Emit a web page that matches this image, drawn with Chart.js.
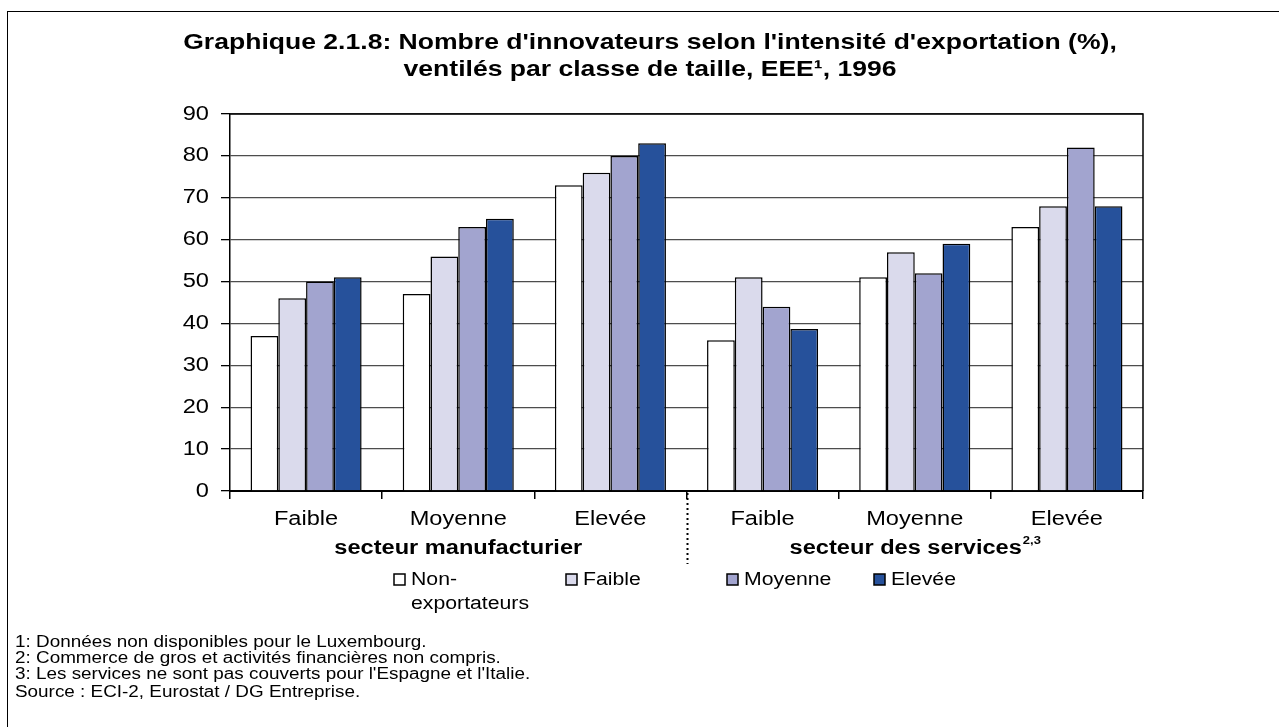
<!DOCTYPE html>
<html>
<head>
<meta charset="utf-8">
<title>Graphique 2.1.8</title>
<script src="https://cdn.jsdelivr.net/npm/chart.js@4.4.1/dist/chart.umd.min.js"></script>
<style>
    html, body { margin: 0; padding: 0; background: #fff; }
    #wrap { width: 1279px; height: 727px; }
</style>
</head>
<body>
<div id="wrap"><canvas id="bar-chart" width="1279" height="727"></canvas></div>
<script>
'use strict';

// export intensity classes on the x axis, two sectors of three
const categories = ['Faible', 'Moyenne', 'Elevée', 'Faible', 'Moyenne', 'Elevée'];
const sectors = ['secteur manufacturier', 'secteur des services'];

// share of innovators (%) by size class
const nonExportateurs = [37, 47, 73, 36, 51, 63];
const faible = [46, 56, 76, 51, 57, 68];
const moyenne = [50, 63, 80, 44, 52, 82];
const elevee = [51, 65, 83, 38.7, 59, 68];

const seriesLabels = ['Non-\nexportateurs', 'Faible', 'Moyenne', 'Elevée'];
const seriesColors = ['#ffffff', '#dadaec', '#a2a4cf', '#26519b'];

const yTicks = [0, 10, 20, 30, 40, 50, 60, 70, 80, 90];

const titleLines = [
    "Graphique 2.1.8: Nombre d'innovateurs selon l'intensité d'exportation (%),",
    "ventilés par classe de taille, EEE¹, 1996"
];
const notes = [
    '1: Données non disponibles pour le Luxembourg.',
    '2: Commerce de gros et activités financières non compris.',
    "3: Les services ne sont pas couverts pour l'Espagne et l'Italie."
];
const source = 'Source : ECI-2, Eurostat / DG Entreprise.';

const FONT = '"Liberation Sans", Arial, Helvetica, sans-serif';
const SX = 1.18;   // the text in this figure is set slightly wide


// draws text widened by SX, anchored like textAlign would
function wideText(ctx, text, x, y, align) {
    const w = ctx.measureText(text).width * SX;
    let x0 = x;
    if (align === 'center') x0 = x - w / 2;
    else if (align === 'right') x0 = x - w;
    ctx.save();
    ctx.translate(x0, y);
    ctx.scale(SX, 1);
    ctx.textAlign = 'left';
    ctx.fillText(text, 0, 0);
    ctx.restore();
    return w;
}

const decor = {
    id: 'decor',
    beforeDraw(chart) {
        const ctx = chart.ctx;
        ctx.save();
        ctx.fillStyle = '#fff';
        ctx.fillRect(0, 0, chart.width, chart.height);
        ctx.strokeStyle = '#000';
        ctx.lineWidth = 1;
        ctx.strokeRect(7.5, 11.5, chart.width + 20, chart.height + 20);
        ctx.restore();
    },
    afterDatasetsDraw(chart) {
        // top and right edges of the plot frame
        const ctx = chart.ctx;
        const a = chart.chartArea;
        ctx.save();
        ctx.strokeStyle = '#000';
        ctx.lineWidth = 1.5;
        ctx.beginPath();
        ctx.moveTo(a.left, a.top);
        ctx.lineTo(a.right, a.top);
        ctx.lineTo(a.right, a.bottom);
        ctx.stroke();
        ctx.restore();
    },
    afterDraw(chart) {
        const ctx = chart.ctx;
        const a = chart.chartArea;
        const x = chart.scales.x;
        const y = chart.scales.y;
        ctx.save();
        ctx.fillStyle = '#000';
        ctx.textBaseline = 'middle';

        // title
        ctx.font = 'bold 22.5px ' + FONT;
        wideText(ctx, titleLines[0], 650, 43, 'center');
        wideText(ctx, titleLines[1], 650, 70, 'center');

        // tick labels, placed by the scales
        ctx.font = '20px ' + FONT;
        y.ticks.forEach((t, i) => {
            wideText(ctx, String(t.value), 209, y.getPixelForTick(i), 'right');
        });
        x.ticks.forEach((t, i) => {
            wideText(ctx, chart.data.labels[t.value], x.getPixelForTick(i), 519, 'center');
        });

        // sector labels under the x ticks
        const mid = (x.getPixelForValue(2) + x.getPixelForValue(3)) / 2;
        ctx.font = 'bold 20px ' + FONT;
        wideText(ctx, sectors[0], (a.left + mid) / 2, 548, 'center');
        let w1 = ctx.measureText(sectors[1]).width * SX;
        ctx.font = 'bold 11px ' + FONT;
        let w2 = ctx.measureText('2,3').width * SX;
        let sx0 = (mid + a.right) / 2 - (w1 + w2) / 2;
        ctx.font = 'bold 20px ' + FONT;
        wideText(ctx, sectors[1], sx0, 548, 'left');
        ctx.font = 'bold 11px ' + FONT;
        wideText(ctx, '2,3', sx0 + w1 + 1, 541, 'left');

        // dotted divider between sectors
        ctx.strokeStyle = '#000';
        ctx.lineWidth = 2;
        ctx.setLineDash([2, 3]);
        ctx.beginPath();
        ctx.moveTo(Math.round(mid) + 0.5, a.bottom + 2);
        ctx.lineTo(Math.round(mid) + 0.5, 564);
        ctx.stroke();
        ctx.setLineDash([]);

        // legend
        const legX = [394, 566, 727, 874];
        ctx.font = '18px ' + FONT;
        chart.data.datasets.forEach((ds, i) => {
            ctx.fillStyle = ds.backgroundColor;
            ctx.fillRect(legX[i], 574, 11, 11);
            ctx.strokeStyle = '#000';
            ctx.lineWidth = 1.5;
            ctx.strokeRect(legX[i], 574, 11, 11);
            ctx.fillStyle = '#000';
            ds.label.split('\n').forEach((line, j) => {
                wideText(ctx, line, legX[i] + 17, 580 + j * 24, 'left');
            });
        });

        // footnotes
        ctx.font = '16px ' + FONT;
        notes.forEach((n, i) => wideText(ctx, n, 15, 643 + i * 16, 'left'));
        wideText(ctx, source, 15, 693, 'left');
        ctx.restore();
    }
};

const datasets = [nonExportateurs, faible, moyenne, elevee].map((values, i) => ({
    label: seriesLabels[i],
    data: values,
    backgroundColor: seriesColors[i],
    borderColor: '#000',
    borderWidth: 1.5,
    categoryPercentage: 0.73,
    barPercentage: 1.0
}));

const ctx = document.getElementById('bar-chart').getContext('2d');
const chart = new Chart(ctx, {
    type: 'bar',
    data: { labels: categories, datasets: datasets },
    options: {
        responsive: false,
        animation: false,
        devicePixelRatio: 1,
        layout: { padding: { left: 0, top: 114, right: 136, bottom: 196 } },
        plugins: {
            legend: { display: false },
            title: { display: false },
            tooltip: { enabled: false }
        },
        scales: {
            x: {
                afterFit(scale) { scale.height = 40; },
                grid: {
                    offset: true,
                    drawOnChartArea: false,
                    tickLength: 8,
                    color: '#000',
                    lineWidth: 1.5
                },
                border: { color: '#000', width: 2 },
                ticks: { display: false }
            },
            y: {
                min: 0,
                max: 90,
                afterFit(scale) { scale.width = 230; },
                afterBuildTicks(scale) { scale.ticks = yTicks.map(v => ({ value: v })); },
                grid: {
                    color: '#4d4d4d',
                    lineWidth: 1.3,
                    tickColor: '#000',
                    tickLength: 9
                },
                border: { color: '#000', width: 1.5 },
                ticks: { display: false }
            }
        }
    },
    plugins: [decor]
});
</script>
</body>
</html>
